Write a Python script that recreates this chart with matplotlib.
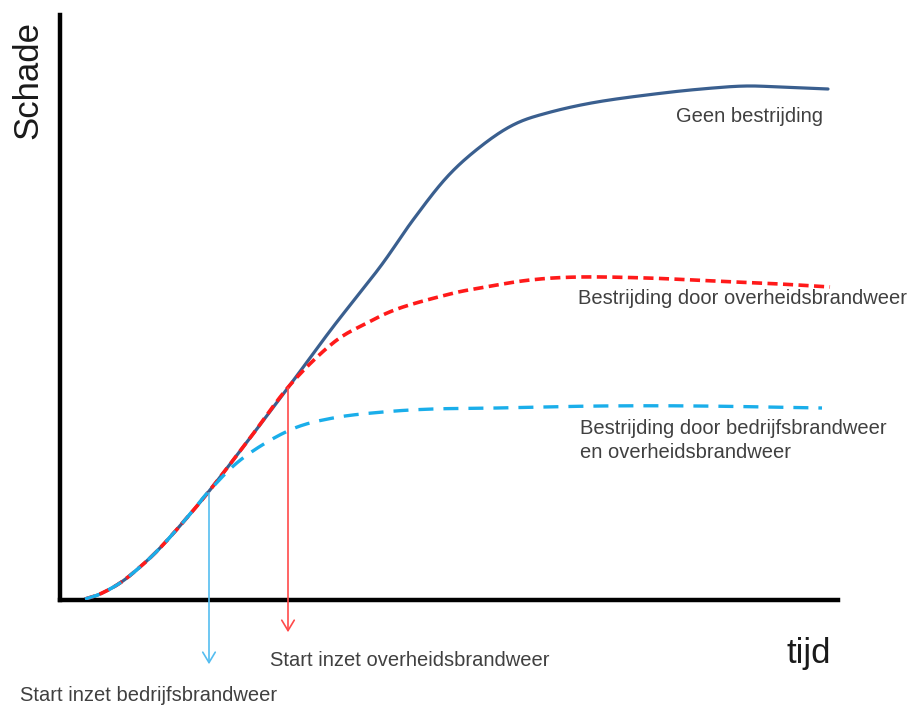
import numpy as np
import matplotlib.pyplot as plt

plt.rcParams['font.family'] = ['Liberation Sans', 'DejaVu Sans']

# shared start of the fire (tijd, schade), arbitrary units
t_start = [25, 40, 60, 80, 100, 125, 150, 190, 230]
s_start = [1, 6, 17, 33, 52, 80, 110, 162, 215]

# geen bestrijding (continues after t=230)
t_geen = [273, 320, 353, 387, 420, 453, 487, 537, 603, 653, 687, 720, 768]
s_geen = [273, 333, 380, 423, 453, 475, 487, 498, 507, 512, 514, 513, 511]

# overheidsbrandweer (continues after t=230)
t_overheid = [273, 307, 340, 390, 420, 470, 520, 587, 653, 720, 770]
s_overheid = [257, 277, 292, 306, 312, 320, 323, 322, 319, 316, 313]

# bedrijfsbrandweer (continues after t=150)
t_bedrijf = [183, 230, 273, 323, 373, 437, 540, 640, 762]
s_bedrijf = [142, 170, 182, 188, 191, 192, 194, 194, 192]

t_inzet_bedrijf = 150
t_inzet_overheid = 228


def smooth(x, y, n=20):
    # catmull-rom through the read points, only for drawing
    p = np.column_stack([x, y]).astype(float)
    p = np.vstack([2 * p[0] - p[1], p, 2 * p[-1] - p[-2]])
    out = []
    u = np.linspace(0, 1, n, endpoint=False)[:, None]
    for i in range(1, len(p) - 2):
        p0, p1, p2, p3 = p[i - 1], p[i], p[i + 1], p[i + 2]
        seg = 0.5 * ((2 * p1) + (-p0 + p2) * u + (2 * p0 - 5 * p1 + 4 * p2 - p3) * u**2
                     + (-p0 + 3 * p1 - 3 * p2 + p3) * u**3)
        out.append(seg)
    out.append(p[-2][None, :])
    out = np.vstack(out)
    return out[:, 0], out[:, 1]


fig = plt.figure(figsize=(9.07, 7.06), dpi=100)
ax = fig.add_axes([60/907, 106/706, 778/907, 585/706])
ax.set_xlim(0, 778)
ax.set_ylim(0, 585)

# curves
n1 = t_start.index(t_inzet_bedrijf) + 1
ax.plot(*smooth(t_start + t_geen, s_start + s_geen), color='#3A5F8F', lw=2.3,
        solid_capstyle='round', zorder=2)
ax.plot(*smooth(t_start + t_overheid, s_start + s_overheid), color='#FF1A1A', lw=2.6,
        dashes=(2.8, 1.5), zorder=3)
ax.plot(*smooth(t_start[:n1] + t_bedrijf, s_start[:n1] + s_bedrijf), color='#1AAEEA',
        lw=2.4, dashes=(4.5, 3.0), zorder=4)

# arrows
head = '->,head_length=0.75,head_width=0.45'
ax.annotate('', xy=(t_inzet_bedrijf - 1, -67), xytext=(t_inzet_bedrijf - 1, 110),
            arrowprops=dict(arrowstyle=head, color='#55BDF0', lw=1.2),
            annotation_clip=False)
ax.annotate('', xy=(t_inzet_overheid, -35), xytext=(t_inzet_overheid, 215),
            arrowprops=dict(arrowstyle=head, color='#FF4A4A', lw=1.2),
            annotation_clip=False)

# labels
txt = '#404040'
ax.text(616, 483, 'Geen bestrijding', fontsize=14.5, color=txt, va='center')
ax.text(518, 302, 'Bestrijding door overheidsbrandweer', fontsize=14.5, color=txt,
        va='center', clip_on=False)
ax.text(520, 181, 'Bestrijding door bedrijfsbrandweer\nen overheidsbrandweer',
        fontsize=14.5, color=txt, va='top', linespacing=1.35, clip_on=False)
ax.text(210, -61, 'Start inzet overheidsbrandweer', fontsize=14.5, color=txt,
        va='center', clip_on=False)
ax.text(-40, -101, 'Start inzet bedrijfsbrandweer', fontsize=14.5, color=txt,
        va='baseline', clip_on=False)
ax.text(727, -54, 'tijd', fontsize=25, color='#1a1a1a', va='center', clip_on=False)
ax.text(-32, 520, 'Schade', fontsize=25, color='#1a1a1a', rotation=90,
        ha='center', va='center', clip_on=False)

for side in ['top', 'right']:
    ax.spines[side].set_visible(False)
for side in ['left', 'bottom']:
    ax.spines[side].set_linewidth(3.2)
ax.set_xticks([])
ax.set_yticks([])

fig.savefig('out.png', dpi=100)
